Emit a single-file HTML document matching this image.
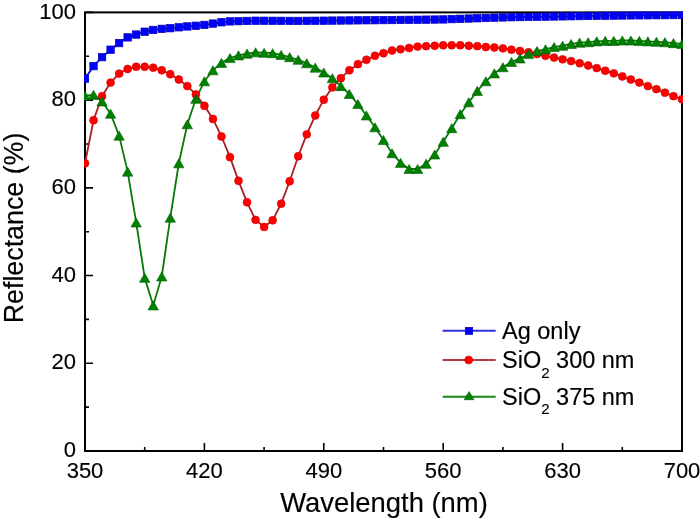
<!DOCTYPE html>
<html><head><meta charset="utf-8"><style>
html,body{margin:0;padding:0;background:#fff;width:700px;height:521px;overflow:hidden;}
svg{display:block;will-change:transform;}
</style></head><body>
<svg width="700" height="521" viewBox="0 0 700 521">
<rect width="700" height="521" fill="#fff"/>
<defs><clipPath id="pc"><rect x="84.0" y="11.4" width="599.0" height="440.6"/></clipPath></defs>
<g fill="none" stroke="#000" stroke-width="2">
<rect x="85.0" y="12.4" width="597.0" height="438.6"/>
</g>
<path d="M85.00 451.00V443.00M144.70 451.00V447.00M204.40 451.00V443.00M264.10 451.00V447.00M323.80 451.00V443.00M383.50 451.00V447.00M443.20 451.00V443.00M502.90 451.00V447.00M562.60 451.00V443.00M622.30 451.00V447.00M682.00 451.00V443.00M85.00 451.00H93.00M85.00 407.14H89.00M85.00 363.28H93.00M85.00 319.42H89.00M85.00 275.56H93.00M85.00 231.70H89.00M85.00 187.84H93.00M85.00 143.98H89.00M85.00 100.12H93.00M85.00 56.26H89.00M85.00 12.40H93.00" stroke="#000" stroke-width="1.6" fill="none"/>
<g clip-path="url(#pc)">
<polyline points="85.00,78.63 93.53,66.13 102.06,57.14 110.59,49.68 119.11,43.10 127.64,37.40 136.17,34.55 144.70,31.70 153.23,29.94 161.76,28.85 170.29,28.19 178.81,27.31 187.34,26.44 195.87,25.78 204.40,24.90 212.93,23.58 221.46,22.27 229.99,21.39 238.51,21.17 247.04,20.95 255.57,20.73 264.10,20.78 272.63,20.82 281.16,20.86 289.69,20.91 298.21,20.95 306.74,20.86 315.27,20.78 323.80,20.69 332.33,20.60 340.86,20.51 349.39,20.43 357.91,20.35 366.44,20.27 374.97,20.19 383.50,20.10 392.03,20.02 400.56,19.94 409.09,19.86 417.61,19.75 426.14,19.64 434.67,19.53 443.20,19.42 451.73,19.13 460.26,18.83 468.79,18.54 477.31,18.25 485.84,17.96 494.37,17.66 502.90,17.44 511.43,17.22 519.96,17.08 528.49,16.93 537.01,16.79 545.54,16.64 554.07,16.49 562.60,16.35 571.13,16.22 579.66,16.10 588.19,15.97 596.71,15.85 605.24,15.72 613.77,15.60 622.30,15.47 630.83,15.41 639.36,15.34 647.89,15.28 656.41,15.22 664.94,15.16 673.47,15.09 682.00,15.03" fill="none" stroke="#1010e0" stroke-width="1.8"/>
<polyline points="85.00,163.28 93.53,120.30 102.06,96.17 110.59,82.58 119.11,73.58 127.64,68.98 136.17,66.79 144.70,66.79 153.23,67.66 161.76,70.30 170.29,74.24 178.81,79.51 187.34,86.08 195.87,94.42 204.40,105.82 212.93,118.98 221.46,136.52 229.99,157.14 238.51,180.82 247.04,202.31 255.57,219.86 264.10,226.88 272.63,220.30 281.16,203.63 289.69,181.26 298.21,156.26 306.74,134.33 315.27,115.47 323.80,99.68 332.33,87.40 340.86,78.19 349.39,70.30 357.91,64.15 366.44,59.77 374.97,55.82 383.50,53.19 392.03,50.56 400.56,49.24 409.09,47.93 417.61,46.61 426.14,46.17 434.67,45.73 443.20,45.30 451.73,45.30 460.26,45.30 468.79,45.73 477.31,46.17 485.84,47.05 494.37,47.49 502.90,48.37 511.43,49.68 519.96,51.00 528.49,52.31 537.01,54.07 545.54,55.82 554.07,57.58 562.60,59.33 571.13,61.08 579.66,63.28 588.19,65.47 596.71,68.10 605.24,70.73 613.77,73.37 622.30,76.44 630.83,79.51 639.36,82.58 647.89,86.08 656.41,89.15 664.94,92.66 673.47,96.17 682.00,99.24" fill="none" stroke="#a82020" stroke-width="1.8"/>
<polyline points="85.00,95.73 93.53,94.86 102.06,101.44 110.59,113.72 119.11,135.65 127.64,171.61 136.17,222.49 144.70,277.75 153.23,305.38 161.76,276.44 170.29,217.66 178.81,163.28 187.34,124.24 195.87,98.80 204.40,81.26 212.93,70.30 221.46,62.84 229.99,58.01 238.51,55.38 247.04,53.63 255.57,52.31 264.10,52.75 272.63,53.19 281.16,54.94 289.69,57.14 298.21,59.77 306.74,63.28 315.27,67.66 323.80,72.49 332.33,78.19 340.86,86.08 349.39,93.98 357.91,104.07 366.44,115.47 374.97,127.31 383.50,140.03 392.03,153.19 400.56,162.84 409.09,168.98 417.61,168.98 426.14,163.72 434.67,154.51 443.20,141.79 451.73,128.19 460.26,114.16 468.79,102.31 477.31,90.91 485.84,81.26 494.37,73.37 502.90,67.23 511.43,61.96 519.96,58.45 528.49,54.07 537.01,51.00 545.54,49.24 554.07,47.05 562.60,45.73 571.13,43.98 579.66,42.66 588.19,42.22 596.71,41.35 605.24,40.91 613.77,40.91 622.30,40.47 630.83,40.47 639.36,40.91 647.89,41.35 656.41,41.79 664.94,42.22 673.47,43.10 682.00,43.98" fill="none" stroke="#087808" stroke-width="1.8"/>
<g fill="#0000ff" stroke="#0000b0" stroke-width="0.7"><rect x="81.30" y="74.93" width="7.4" height="7.4"/><rect x="89.83" y="62.43" width="7.4" height="7.4"/><rect x="98.36" y="53.44" width="7.4" height="7.4"/><rect x="106.89" y="45.98" width="7.4" height="7.4"/><rect x="115.41" y="39.40" width="7.4" height="7.4"/><rect x="123.94" y="33.70" width="7.4" height="7.4"/><rect x="132.47" y="30.85" width="7.4" height="7.4"/><rect x="141.00" y="28.00" width="7.4" height="7.4"/><rect x="149.53" y="26.24" width="7.4" height="7.4"/><rect x="158.06" y="25.15" width="7.4" height="7.4"/><rect x="166.59" y="24.49" width="7.4" height="7.4"/><rect x="175.11" y="23.61" width="7.4" height="7.4"/><rect x="183.64" y="22.74" width="7.4" height="7.4"/><rect x="192.17" y="22.08" width="7.4" height="7.4"/><rect x="200.70" y="21.20" width="7.4" height="7.4"/><rect x="209.23" y="19.88" width="7.4" height="7.4"/><rect x="217.76" y="18.57" width="7.4" height="7.4"/><rect x="226.29" y="17.69" width="7.4" height="7.4"/><rect x="234.81" y="17.47" width="7.4" height="7.4"/><rect x="243.34" y="17.25" width="7.4" height="7.4"/><rect x="251.87" y="17.03" width="7.4" height="7.4"/><rect x="260.40" y="17.08" width="7.4" height="7.4"/><rect x="268.93" y="17.12" width="7.4" height="7.4"/><rect x="277.46" y="17.16" width="7.4" height="7.4"/><rect x="285.99" y="17.21" width="7.4" height="7.4"/><rect x="294.51" y="17.25" width="7.4" height="7.4"/><rect x="303.04" y="17.16" width="7.4" height="7.4"/><rect x="311.57" y="17.08" width="7.4" height="7.4"/><rect x="320.10" y="16.99" width="7.4" height="7.4"/><rect x="328.63" y="16.90" width="7.4" height="7.4"/><rect x="337.16" y="16.81" width="7.4" height="7.4"/><rect x="345.69" y="16.73" width="7.4" height="7.4"/><rect x="354.21" y="16.65" width="7.4" height="7.4"/><rect x="362.74" y="16.57" width="7.4" height="7.4"/><rect x="371.27" y="16.49" width="7.4" height="7.4"/><rect x="379.80" y="16.40" width="7.4" height="7.4"/><rect x="388.33" y="16.32" width="7.4" height="7.4"/><rect x="396.86" y="16.24" width="7.4" height="7.4"/><rect x="405.39" y="16.16" width="7.4" height="7.4"/><rect x="413.91" y="16.05" width="7.4" height="7.4"/><rect x="422.44" y="15.94" width="7.4" height="7.4"/><rect x="430.97" y="15.83" width="7.4" height="7.4"/><rect x="439.50" y="15.72" width="7.4" height="7.4"/><rect x="448.03" y="15.43" width="7.4" height="7.4"/><rect x="456.56" y="15.13" width="7.4" height="7.4"/><rect x="465.09" y="14.84" width="7.4" height="7.4"/><rect x="473.61" y="14.55" width="7.4" height="7.4"/><rect x="482.14" y="14.26" width="7.4" height="7.4"/><rect x="490.67" y="13.96" width="7.4" height="7.4"/><rect x="499.20" y="13.74" width="7.4" height="7.4"/><rect x="507.73" y="13.52" width="7.4" height="7.4"/><rect x="516.26" y="13.38" width="7.4" height="7.4"/><rect x="524.79" y="13.23" width="7.4" height="7.4"/><rect x="533.31" y="13.09" width="7.4" height="7.4"/><rect x="541.84" y="12.94" width="7.4" height="7.4"/><rect x="550.37" y="12.79" width="7.4" height="7.4"/><rect x="558.90" y="12.65" width="7.4" height="7.4"/><rect x="567.43" y="12.52" width="7.4" height="7.4"/><rect x="575.96" y="12.40" width="7.4" height="7.4"/><rect x="584.49" y="12.27" width="7.4" height="7.4"/><rect x="593.01" y="12.15" width="7.4" height="7.4"/><rect x="601.54" y="12.02" width="7.4" height="7.4"/><rect x="610.07" y="11.90" width="7.4" height="7.4"/><rect x="618.60" y="11.77" width="7.4" height="7.4"/><rect x="627.13" y="11.71" width="7.4" height="7.4"/><rect x="635.66" y="11.64" width="7.4" height="7.4"/><rect x="644.19" y="11.58" width="7.4" height="7.4"/><rect x="652.71" y="11.52" width="7.4" height="7.4"/><rect x="661.24" y="11.46" width="7.4" height="7.4"/><rect x="669.77" y="11.39" width="7.4" height="7.4"/><rect x="678.30" y="11.33" width="7.4" height="7.4"/></g>
<g fill="#ff0000" stroke="#d00000" stroke-width="0.6"><circle cx="85.00" cy="163.28" r="3.95"/><circle cx="93.53" cy="120.30" r="3.95"/><circle cx="102.06" cy="96.17" r="3.95"/><circle cx="110.59" cy="82.58" r="3.95"/><circle cx="119.11" cy="73.58" r="3.95"/><circle cx="127.64" cy="68.98" r="3.95"/><circle cx="136.17" cy="66.79" r="3.95"/><circle cx="144.70" cy="66.79" r="3.95"/><circle cx="153.23" cy="67.66" r="3.95"/><circle cx="161.76" cy="70.30" r="3.95"/><circle cx="170.29" cy="74.24" r="3.95"/><circle cx="178.81" cy="79.51" r="3.95"/><circle cx="187.34" cy="86.08" r="3.95"/><circle cx="195.87" cy="94.42" r="3.95"/><circle cx="204.40" cy="105.82" r="3.95"/><circle cx="212.93" cy="118.98" r="3.95"/><circle cx="221.46" cy="136.52" r="3.95"/><circle cx="229.99" cy="157.14" r="3.95"/><circle cx="238.51" cy="180.82" r="3.95"/><circle cx="247.04" cy="202.31" r="3.95"/><circle cx="255.57" cy="219.86" r="3.95"/><circle cx="264.10" cy="226.88" r="3.95"/><circle cx="272.63" cy="220.30" r="3.95"/><circle cx="281.16" cy="203.63" r="3.95"/><circle cx="289.69" cy="181.26" r="3.95"/><circle cx="298.21" cy="156.26" r="3.95"/><circle cx="306.74" cy="134.33" r="3.95"/><circle cx="315.27" cy="115.47" r="3.95"/><circle cx="323.80" cy="99.68" r="3.95"/><circle cx="332.33" cy="87.40" r="3.95"/><circle cx="340.86" cy="78.19" r="3.95"/><circle cx="349.39" cy="70.30" r="3.95"/><circle cx="357.91" cy="64.15" r="3.95"/><circle cx="366.44" cy="59.77" r="3.95"/><circle cx="374.97" cy="55.82" r="3.95"/><circle cx="383.50" cy="53.19" r="3.95"/><circle cx="392.03" cy="50.56" r="3.95"/><circle cx="400.56" cy="49.24" r="3.95"/><circle cx="409.09" cy="47.93" r="3.95"/><circle cx="417.61" cy="46.61" r="3.95"/><circle cx="426.14" cy="46.17" r="3.95"/><circle cx="434.67" cy="45.73" r="3.95"/><circle cx="443.20" cy="45.30" r="3.95"/><circle cx="451.73" cy="45.30" r="3.95"/><circle cx="460.26" cy="45.30" r="3.95"/><circle cx="468.79" cy="45.73" r="3.95"/><circle cx="477.31" cy="46.17" r="3.95"/><circle cx="485.84" cy="47.05" r="3.95"/><circle cx="494.37" cy="47.49" r="3.95"/><circle cx="502.90" cy="48.37" r="3.95"/><circle cx="511.43" cy="49.68" r="3.95"/><circle cx="519.96" cy="51.00" r="3.95"/><circle cx="528.49" cy="52.31" r="3.95"/><circle cx="537.01" cy="54.07" r="3.95"/><circle cx="545.54" cy="55.82" r="3.95"/><circle cx="554.07" cy="57.58" r="3.95"/><circle cx="562.60" cy="59.33" r="3.95"/><circle cx="571.13" cy="61.08" r="3.95"/><circle cx="579.66" cy="63.28" r="3.95"/><circle cx="588.19" cy="65.47" r="3.95"/><circle cx="596.71" cy="68.10" r="3.95"/><circle cx="605.24" cy="70.73" r="3.95"/><circle cx="613.77" cy="73.37" r="3.95"/><circle cx="622.30" cy="76.44" r="3.95"/><circle cx="630.83" cy="79.51" r="3.95"/><circle cx="639.36" cy="82.58" r="3.95"/><circle cx="647.89" cy="86.08" r="3.95"/><circle cx="656.41" cy="89.15" r="3.95"/><circle cx="664.94" cy="92.66" r="3.95"/><circle cx="673.47" cy="96.17" r="3.95"/><circle cx="682.00" cy="99.24" r="3.95"/></g>
<g fill="#008000" stroke="#006000" stroke-width="0.6" stroke-linejoin="miter"><path d="M85.00 91.18L90.20 100.28L79.80 100.28Z"/><path d="M93.53 90.31L98.73 99.41L88.33 99.41Z"/><path d="M102.06 96.89L107.26 105.99L96.86 105.99Z"/><path d="M110.59 109.17L115.79 118.27L105.39 118.27Z"/><path d="M119.11 131.10L124.31 140.20L113.91 140.20Z"/><path d="M127.64 167.06L132.84 176.16L122.44 176.16Z"/><path d="M136.17 217.94L141.37 227.04L130.97 227.04Z"/><path d="M144.70 273.20L149.90 282.30L139.50 282.30Z"/><path d="M153.23 300.83L158.43 309.93L148.03 309.93Z"/><path d="M161.76 271.89L166.96 280.99L156.56 280.99Z"/><path d="M170.29 213.11L175.49 222.21L165.09 222.21Z"/><path d="M178.81 158.73L184.01 167.83L173.61 167.83Z"/><path d="M187.34 119.69L192.54 128.79L182.14 128.79Z"/><path d="M195.87 94.25L201.07 103.35L190.67 103.35Z"/><path d="M204.40 76.71L209.60 85.81L199.20 85.81Z"/><path d="M212.93 65.75L218.13 74.85L207.73 74.85Z"/><path d="M221.46 58.29L226.66 67.39L216.26 67.39Z"/><path d="M229.99 53.46L235.19 62.56L224.79 62.56Z"/><path d="M238.51 50.83L243.71 59.93L233.31 59.93Z"/><path d="M247.04 49.08L252.24 58.18L241.84 58.18Z"/><path d="M255.57 47.76L260.77 56.86L250.37 56.86Z"/><path d="M264.10 48.20L269.30 57.30L258.90 57.30Z"/><path d="M272.63 48.64L277.83 57.74L267.43 57.74Z"/><path d="M281.16 50.39L286.36 59.49L275.96 59.49Z"/><path d="M289.69 52.59L294.89 61.69L284.49 61.69Z"/><path d="M298.21 55.22L303.41 64.32L293.01 64.32Z"/><path d="M306.74 58.73L311.94 67.83L301.54 67.83Z"/><path d="M315.27 63.11L320.47 72.21L310.07 72.21Z"/><path d="M323.80 67.94L329.00 77.04L318.60 77.04Z"/><path d="M332.33 73.64L337.53 82.74L327.13 82.74Z"/><path d="M340.86 81.53L346.06 90.63L335.66 90.63Z"/><path d="M349.39 89.43L354.59 98.53L344.19 98.53Z"/><path d="M357.91 99.52L363.11 108.62L352.71 108.62Z"/><path d="M366.44 110.92L371.64 120.02L361.24 120.02Z"/><path d="M374.97 122.76L380.17 131.86L369.77 131.86Z"/><path d="M383.50 135.48L388.70 144.58L378.30 144.58Z"/><path d="M392.03 148.64L397.23 157.74L386.83 157.74Z"/><path d="M400.56 158.29L405.76 167.39L395.36 167.39Z"/><path d="M409.09 164.43L414.29 173.53L403.89 173.53Z"/><path d="M417.61 164.43L422.81 173.53L412.41 173.53Z"/><path d="M426.14 159.17L431.34 168.27L420.94 168.27Z"/><path d="M434.67 149.96L439.87 159.06L429.47 159.06Z"/><path d="M443.20 137.24L448.40 146.34L438.00 146.34Z"/><path d="M451.73 123.64L456.93 132.74L446.53 132.74Z"/><path d="M460.26 109.61L465.46 118.71L455.06 118.71Z"/><path d="M468.79 97.76L473.99 106.86L463.59 106.86Z"/><path d="M477.31 86.36L482.51 95.46L472.11 95.46Z"/><path d="M485.84 76.71L491.04 85.81L480.64 85.81Z"/><path d="M494.37 68.82L499.57 77.92L489.17 77.92Z"/><path d="M502.90 62.68L508.10 71.78L497.70 71.78Z"/><path d="M511.43 57.41L516.63 66.51L506.23 66.51Z"/><path d="M519.96 53.90L525.16 63.00L514.76 63.00Z"/><path d="M528.49 49.52L533.69 58.62L523.29 58.62Z"/><path d="M537.01 46.45L542.21 55.55L531.81 55.55Z"/><path d="M545.54 44.69L550.74 53.79L540.34 53.79Z"/><path d="M554.07 42.50L559.27 51.60L548.87 51.60Z"/><path d="M562.60 41.18L567.80 50.28L557.40 50.28Z"/><path d="M571.13 39.43L576.33 48.53L565.93 48.53Z"/><path d="M579.66 38.11L584.86 47.21L574.46 47.21Z"/><path d="M588.19 37.67L593.39 46.77L582.99 46.77Z"/><path d="M596.71 36.80L601.91 45.90L591.51 45.90Z"/><path d="M605.24 36.36L610.44 45.46L600.04 45.46Z"/><path d="M613.77 36.36L618.97 45.46L608.57 45.46Z"/><path d="M622.30 35.92L627.50 45.02L617.10 45.02Z"/><path d="M630.83 35.92L636.03 45.02L625.63 45.02Z"/><path d="M639.36 36.36L644.56 45.46L634.16 45.46Z"/><path d="M647.89 36.80L653.09 45.90L642.69 45.90Z"/><path d="M656.41 37.24L661.61 46.34L651.21 46.34Z"/><path d="M664.94 37.67L670.14 46.77L659.74 46.77Z"/><path d="M673.47 38.55L678.67 47.65L668.27 47.65Z"/><path d="M682.00 39.43L687.20 48.53L676.80 48.53Z"/></g>
</g>
<g font-family='"Liberation Sans", sans-serif' font-size="22" fill="#000" stroke="#000" stroke-width="0.15"><text x="85.00" y="478" text-anchor="middle">350</text><text x="204.40" y="478" text-anchor="middle">420</text><text x="323.80" y="478" text-anchor="middle">490</text><text x="443.20" y="478" text-anchor="middle">560</text><text x="562.60" y="478" text-anchor="middle">630</text><text x="682.00" y="478" text-anchor="middle">700</text><text x="76" y="457.10" text-anchor="end">0</text><text x="76" y="369.38" text-anchor="end">20</text><text x="76" y="281.66" text-anchor="end">40</text><text x="76" y="193.94" text-anchor="end">60</text><text x="76" y="106.22" text-anchor="end">80</text><text x="76" y="18.50" text-anchor="end">100</text></g>
<text x="384" y="511.5" text-anchor="middle" font-family='"Liberation Sans", sans-serif' font-size="27.4" fill="#000" stroke="#000" stroke-width="0.15">Wavelength (nm)</text>
<text transform="translate(23.2 228) rotate(-90)" text-anchor="middle" font-family='"Liberation Sans", sans-serif' font-size="26.8" fill="#000" stroke="#000" stroke-width="0.15">Reflectance (%)</text>
<g><path d="M442.6 330.7H495.7" stroke="#3030e0" stroke-width="2"/><rect x="465.35" y="327.35" width="7.3" height="7.0" fill="#0000ff" stroke="#0000b0" stroke-width="0.7"/><path d="M442.6 360H495.7" stroke="#b04040" stroke-width="2"/><circle cx="468.7" cy="360" r="4.0" fill="#ff0000" stroke="#d00000" stroke-width="0.6"/><path d="M442.6 396.7H495.7" stroke="#188818" stroke-width="2"/><path d="M469.1 391.6L474 399.7H464.2Z" fill="#008000" stroke="#006000" stroke-width="0.6"/></g>
<g font-family='"Liberation Sans", sans-serif' font-size="23.5" fill="#000" stroke="#000" stroke-width="0.15"><text x="502" y="339">Ag only</text><text x="502" y="368">SiO<tspan font-size="15" dy="9.7">2</tspan><tspan dy="-9.7"> 300 nm</tspan></text><text x="502" y="404.6">SiO<tspan font-size="15" dy="9.7">2</tspan><tspan dy="-9.7"> 375 nm</tspan></text></g>
</svg>
</body></html>
